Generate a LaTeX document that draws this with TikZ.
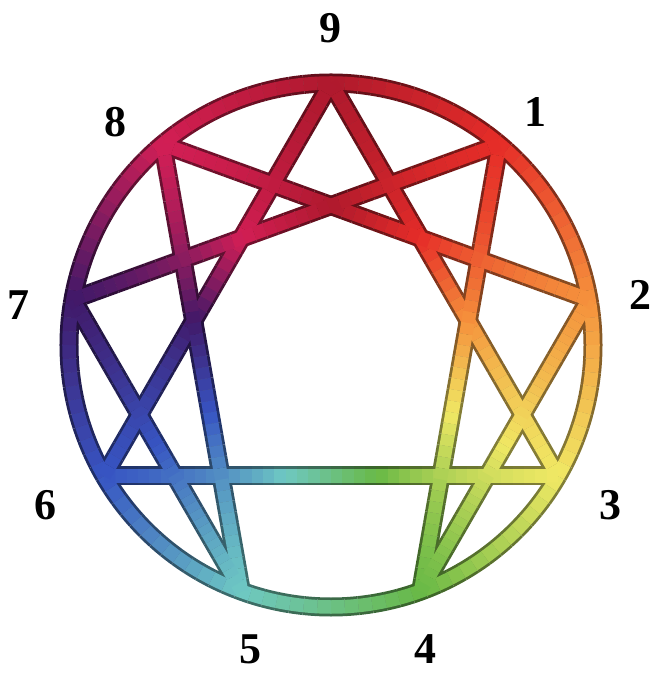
\documentclass[tikz,border=0pt]{standalone}
\usepackage{fontspec}
\setmainfont{Liberation Serif}
\usetikzlibrary{calc}

% colours at the nine points, from 9 clockwise
\definecolor{enn0}{RGB}{175,25,45}
\definecolor{enn1}{RGB}{230,45,40}
\definecolor{enn2}{RGB}{245,145,60}
\definecolor{enn3}{RGB}{240,232,100}
\definecolor{enn4}{RGB}{105,185,70}
\definecolor{enn5}{RGB}{110,200,195}
\definecolor{enn6}{RGB}{55,85,195}
\definecolor{enn7}{RGB}{65,25,105}
\definecolor{enn8}{RGB}{210,30,85}
\colorlet{enn9}{enn0}
\colorlet{enn10}{enn1}

\def\ennR{5.24}

% colour of a piece from the angle of its middle
\newcommand\segcolor[2]{%
  \pgfmathsetmacro\ang{mod(90-atan2(#2,#1)+720,360)/40}%
  \pgfmathtruncatemacro\kk{floor(\ang)}%
  \pgfmathtruncatemacro\kn{\kk+1}%
  \pgfmathsetmacro\pp{(\ang-\kk)*100}%
  \colorlet{segc}{enn\kn!\pp!enn\kk}}

% one pass over circle and lines
\newcommand\ennpass[1]{%
  \foreach \i in {0,...,119}{%
    \pgfmathsetmacro\aone{90-3*\i}
    \pgfmathsetmacro\atwo{\aone-3}
    \pgfmathsetmacro\amid{\aone-1.5}
    \segcolor{cos(\amid)}{sin(\amid)}
    \draw[#1] (\aone:\ennR) arc[start angle=\aone, end angle=\atwo, radius=\ennR];
  }
  \foreach \a/\b in {0/3,3/6,6/0,1/4,4/2,2/8,8/5,5/7,7/1}{%
    \pgfmathsetmacro\xa{\ennR*cos(90-40*\a)}
    \pgfmathsetmacro\ya{\ennR*sin(90-40*\a)}
    \pgfmathsetmacro\xb{\ennR*cos(90-40*\b)}
    \pgfmathsetmacro\yb{\ennR*sin(90-40*\b)}
    \foreach \j in {0,...,39}{%
      \pgfmathsetmacro\ta{\j/40}
      \pgfmathsetmacro\tb{(\j+1)/40}
      \pgfmathsetmacro\xm{\xa+(\xb-\xa)*(\j+0.5)/40}
      \pgfmathsetmacro\ym{\ya+(\yb-\ya)*(\j+0.5)/40}
      \segcolor{\xm}{\ym}
      \draw[#1] ($(p\a)!\ta!(p\b)$) -- ($(p\a)!\tb!(p\b)$);
    }
  }}

\tikzset{
  bandedge/.style={draw=segc!55!black, line width=0.38cm},
  bandfill/.style={draw=segc, line width=0.27cm},
  pointlabel/.style={font=\fontsize{25}{30}\selectfont\bfseries}
}

\begin{document}
\begin{tikzpicture}
  \useasboundingbox (-6.62,-6.56) rectangle (6.48,6.9);

  % points on the circle
  \foreach \k in {0,...,8}
    \coordinate (p\k) at ({90-40*\k}:\ennR);

  % dark edges first, then the colour over them
  \ennpass{bandedge}
  \ennpass{bandfill}

  % numbers
  \node[pointlabel] (n9) at (-0.02,6.34) {9};
  \node[pointlabel] (n1) at (4.08,4.66) {1};
  \node[pointlabel] (n2) at (6.18,1.0) {2};
  \node[pointlabel] (n3) at (5.58,-3.2) {3};
  \node[pointlabel] (n4) at (1.88,-6.08) {4};
  \node[pointlabel] (n5) at (-1.62,-6.08) {5};
  \node[pointlabel] (n6) at (-5.72,-3.2) {6};
  \node[pointlabel] (n7) at (-6.26,0.8) {7};
  \node[pointlabel] (n8) at (-4.32,4.46) {8};
\end{tikzpicture}
\end{document}
